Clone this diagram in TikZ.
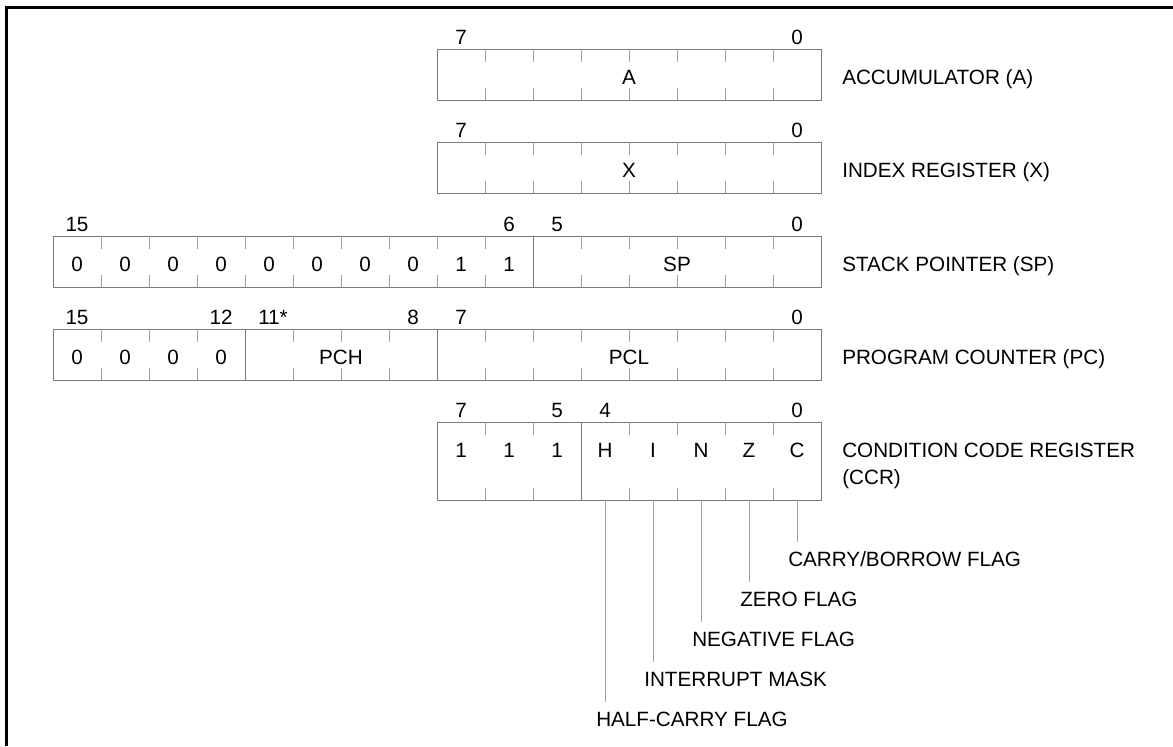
\documentclass[tikz,border=0pt]{standalone}
\usepackage{fontspec}
\setmainfont{Liberation Sans}
\usetikzlibrary{positioning,calc}
\definecolor{boxgray}{gray}{0.48}
\definecolor{tickgray}{gray}{0.62}

\begin{document}
\begin{tikzpicture}[
    x=0.25mm, y=-0.25mm,
    font=\fontsize{14.7}{19.2}\selectfont,
    reg/.style={draw=boxgray, line width=0.7pt, inner sep=0pt, outer sep=0pt, anchor=north west, minimum height=12.75mm},
    divline/.style={draw=boxgray, line width=0.7pt},
    celltick/.style={draw=tickgray, line width=0.7pt},
    bitno/.style={anchor=base, inner sep=0pt},
    field/.style={anchor=base, inner sep=0pt},
    regname/.style={anchor=base west, inner sep=0pt},
    flagname/.style={anchor=base west, inner xsep=0pt, inner ysep=2.25mm},
    lead/.style={draw=tickgray, line width=0.7pt},
    outerframe/.style={line width=2.1pt}
]
\useasboundingbox (0,0) rectangle (1173,746);
\draw[outerframe] (6.5,746) -- (6.5,7.5) -- (1173,7.5);

% registers
\node[reg, minimum width=96mm] (rega) at (437,49) {};
\node[reg, minimum width=96mm] (regx) at (437,142) {};
\node[reg, minimum width=192mm] (regsp) at (53,236) {};
\node[reg, minimum width=192mm] (regpc) at (53,329) {};
\node[reg, minimum width=96mm, minimum height=19.5mm] (regccr) at (437,422) {};

% cell ticks
\foreach \i in {1,...,7} {
  \draw[celltick] ([xshift=\i*12mm]rega.north west) -- ++(0,13);
  \draw[celltick] ([xshift=\i*12mm]rega.south west) -- ++(0,-12);
  \draw[celltick] ([xshift=\i*12mm]regx.north west) -- ++(0,13);
  \draw[celltick] ([xshift=\i*12mm]regx.south west) -- ++(0,-12);
}
\foreach \i in {1,...,9,11,12,13,14,15} {
  \draw[celltick] ([xshift=\i*12mm]regsp.north west) -- ++(0,13);
  \draw[celltick] ([xshift=\i*12mm]regsp.south west) -- ++(0,-12);
}
\foreach \i in {1,2,3,5,6,7,9,10,...,15} {
  \draw[celltick] ([xshift=\i*12mm]regpc.north west) -- ++(0,13);
  \draw[celltick] ([xshift=\i*12mm]regpc.south west) -- ++(0,-12);
}
\foreach \i in {1,2,4,5,6,7} {
  \draw[celltick] ([xshift=\i*12mm]regccr.north west) -- ++(0,13);
  \draw[celltick] ([xshift=\i*12mm]regccr.south west) -- ++(0,-12);
}

% field dividers
\draw[divline] ([xshift=120mm]regsp.north west) -- ([xshift=120mm]regsp.south west);
\draw[divline] ([xshift=48mm]regpc.north west) -- ([xshift=48mm]regpc.south west);
\draw[divline] ([xshift=96mm]regpc.north west) -- ([xshift=96mm]regpc.south west);
\draw[divline] ([xshift=36mm]regccr.north west) -- ([xshift=36mm]regccr.south west);

% bit numbers
\node[bitno] (a7) at (461,44) {7};
\node[bitno] (a0) at (797,44) {0};
\node[bitno] (x7) at (461,137) {7};
\node[bitno] (x0) at (797,137) {0};
\node[bitno] (sp15) at (77,231) {15};
\node[bitno] (sp6) at (509,231) {6};
\node[bitno] (sp5) at (557,231) {5};
\node[bitno] (sp0) at (797,231) {0};
\node[bitno] (pc15) at (77,324) {15};
\node[bitno] (pc12) at (221,324) {12};
\node[bitno] (pc11) at (269,324) {11\rlap{*}};
\node[bitno] (pc8) at (413,324) {8};
\node[bitno] (pc7) at (461,324) {7};
\node[bitno] (pc0) at (797,324) {0};
\node[bitno] (ccr7) at (461,417) {7};
\node[bitno] (ccr5) at (557,417) {5};
\node[bitno] (ccr4) at (605,417) {4};
\node[bitno] (ccr0) at (797,417) {0};

% register contents
\node[field] (fa) at (629,84) {A};
\node[field] (fx) at (629,177) {X};
\foreach \b [count=\i] in {0,0,0,0,0,0,0,0,1,1}
  \node[field] (spb\i) at (29+48*\i,271) {\b};
\node[field] (fsp) at (677,271) {SP};
\foreach \i in {1,...,4}
  \node[field] (pcb\i) at (29+48*\i,364) {0};
\node[field] (fpch) at (341,364) {PCH};
\node[field] (fpcl) at (629,364) {PCL};
\foreach \b [count=\i] in {1,1,1,H,I,N,Z,C}
  \node[field] (ccrb\i) at (413+48*\i,457) {\b};

% register names
\node[regname] (na) at (842,84) {ACCUMULATOR (A)};
\node[regname] (nx) at (842,177) {INDEX REGISTER (X)};
\node[regname] (nsp) at (842,271) {STACK POINTER (SP)};
\node[regname] (npc) at (842,364) {PROGRAM COUNTER (PC)};
\node[regname] (nccr) at (842,457) {CONDITION CODE REGISTER};
\node[regname] (nccr2) at (842,484) {(CCR)};

% flag leaders
\node[flagname] (cflag) at (788,566) {CARRY/BORROW FLAG};
\node[flagname] (zflag) at (740,606) {ZERO FLAG};
\node[flagname] (nflag) at (692,646) {NEGATIVE FLAG};
\node[flagname] (iflag) at (644,686) {INTERRUPT MASK};
\node[flagname] (hflag) at (596,726) {HALF-CARRY FLAG};
\coordinate (bc) at (797,500);
\coordinate (bz) at (749,500);
\coordinate (bn) at (701,500);
\coordinate (bi) at (653,500);
\coordinate (bh) at (605,500);
\draw[lead] (bc) -- (bc |- cflag.north);
\draw[lead] (bz) -- (bz |- zflag.north);
\draw[lead] (bn) -- (bn |- nflag.north);
\draw[lead] (bi) -- (bi |- iflag.north);
\draw[lead] (bh) -- (bh |- hflag.north);
\end{tikzpicture}
\end{document}
